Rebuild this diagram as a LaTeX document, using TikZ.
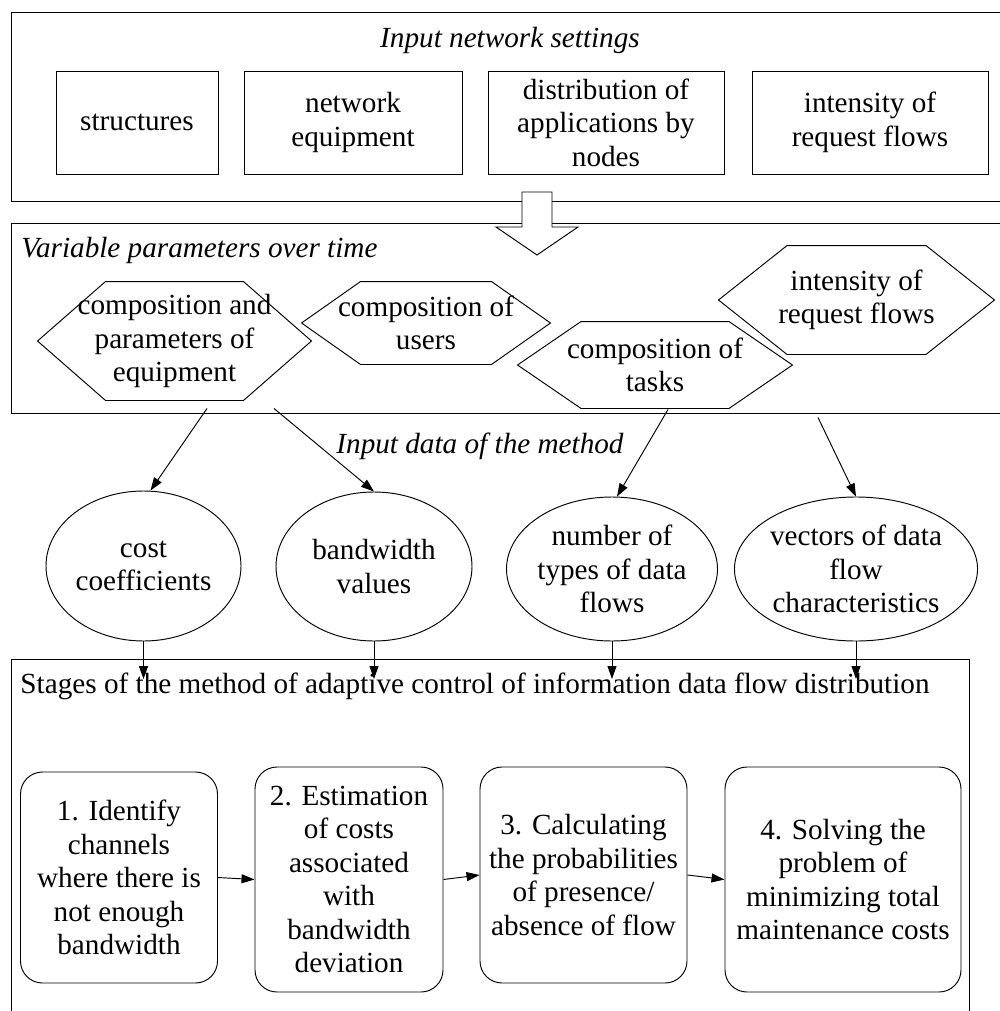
\documentclass[tikz,border=0pt]{standalone}
\usepackage{fontspec}
\setmainfont{Liberation Serif}
\usetikzlibrary{arrows.meta,shapes.geometric}

% hexagon drawn round a node, #2 = slant width
\newcommand\hexframe[2]{%
  \draw (#1.west) -- ([xshift=#2]#1.north west) -- ([xshift=-#2]#1.north east)
    -- (#1.east) -- ([xshift=-#2]#1.south east) -- ([xshift=#2]#1.south west) -- cycle;}

\tikzset{
  txt/.style={font=\rmfamily\fontsize{29.2}{33.5}\selectfont, align=center, inner sep=0pt},
  setbox/.style={txt, draw, minimum height=103pt},
  hexa/.style={txt},
  dataell/.style={txt, draw, ellipse},
  stagebox/.style={txt, draw, rounded corners=22pt},
  title/.style={font=\rmfamily\fontsize{29.2}{33.5}\selectfont\itshape, inner sep=0pt}
}

\begin{document}
\begin{tikzpicture}[x=1pt,y=-1pt,line width=0.95pt,>={Triangle[length=13pt,width=9pt]}]
\clip (0,0) rectangle (1000,1011);

% frames
\draw (11,12.7) rectangle (1004,201);
\draw (11,223) rectangle (1004,413);
\draw (11,1015) -- (11,659) -- (969,659) -- (969,1015);

% input network settings
\node[title] (tin) at (510,40) {Input network settings};
\node[setbox, minimum width=162pt] (structures) at (137,122.5) {structures};
\node[setbox, minimum width=218pt] (equipment) at (353,122.5) {network\\equipment};
\node[setbox, minimum width=236pt] (distrib) at (606,122.5) {distribution of\\applications by\\nodes};
\node[setbox, minimum width=236pt] (intensity) at (870,122.5) {intensity of\\request flows};

% block arrow
\draw[fill=white] (522,192) -- (552,192) -- (552,227) -- (578,227) -- (537,255)
  -- (496,227) -- (522,227) -- cycle;

% variable parameters
\node[title, anchor=base west] (tvar) at (21,257) {Variable parameters over time};
\node[hexa, minimum width=273pt, minimum height=118pt] (hexequip) at (174.5,341)
  {composition and\\parameters of\\equipment};
\hexframe{hexequip}{68pt}
\node[hexa, minimum width=248pt, minimum height=82pt] (hexusers) at (426,323)
  {composition of\\users};
\hexframe{hexusers}{59pt}
\node[hexa, minimum width=274pt, minimum height=86pt] (hextasks) at (655,365)
  {composition of\\tasks};
\hexframe{hextasks}{63.5pt}
\node[hexa, minimum width=275pt, minimum height=108pt] (hexflows) at (856.5,300)
  {intensity of\\request flows};
\hexframe{hexflows}{68.5pt}

% input data
\node[title, anchor=base] (tdata) at (480,453) {Input data of the method};
\node[dataell, minimum width=195pt, minimum height=150pt] (costs) at (143.5,566) {cost\\coefficients};
\node[dataell, minimum width=196pt, minimum height=149pt] (bandwidth) at (374,566.5) {bandwidth\\values};
\node[dataell, minimum width=208pt, minimum height=144pt] (ntypes) at (612,569) {number of\\types of data\\flows};
\node[dataell, minimum width=226pt, minimum height=144pt] (vectors) at (856,569) {vectors of data\\flow\\characteristics};

\draw[->] ([shift={(32.5,8)}]hexequip.south) -- ([xshift=7pt]costs.north);
\draw[->] ([shift={(99.5,8)}]hexequip.south) -- (bandwidth.north);
\draw[->] ([shift={(13,1)}]hextasks.south) -- ([xshift=5pt]ntypes.north);
\draw[->] ([shift={(-38.5,63)}]hexflows.south) -- (vectors.north);

% stages
\coordinate (tipline) at (0,679);
\node[txt, anchor=base west] (tstages) at (20,693)
  {Stages of the method of adaptive control of information data flow distribution};
\foreach \n in {costs,bandwidth,ntypes,vectors}
  \draw[->] (\n.south) -- (\n.south |- tipline);

\node[stagebox, minimum width=197pt, minimum height=211pt] (stageA) at (119,877.5)
  {1. Identify\\channels\\where there is\\not enough\\bandwidth};
\node[stagebox, minimum width=188pt, minimum height=225pt] (stageB) at (349,879.5)
  {2. Estimation\\of costs\\associated\\with\\bandwidth\\deviation};
\node[stagebox, minimum width=207pt, minimum height=216pt] (stageC) at (583.5,875)
  {3. Calculating\\the probabilities\\of presence/\\absence of flow};
\node[stagebox, minimum width=236pt, minimum height=225pt] (stageD) at (843,879.5)
  {4. Solving the\\problem of\\minimizing total\\maintenance costs};

\draw[->] (stageA.east) -- (stageB.west);
\draw[->] (stageB.east) -- (stageC.west);
\draw[->] (stageC.east) -- (stageD.west);
\end{tikzpicture}
\end{document}
